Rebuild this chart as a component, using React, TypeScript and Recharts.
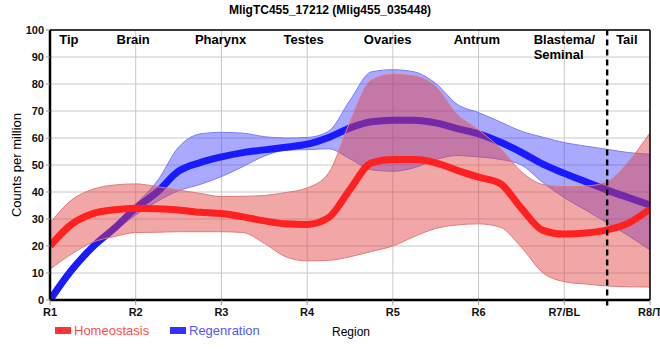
import React from 'react';
import { ComposedChart, Area, Line, XAxis, YAxis, CartesianGrid, ReferenceLine } from 'recharts';

// sample positions along the body axis (0 = R1 ... 7 = R8/T)
const xs = [0, 0.25, 0.5, 0.75, 1, 1.25, 1.5, 1.75, 2, 2.25, 2.5, 2.75, 3, 3.25, 3.5, 3.75, 4, 4.25, 4.5, 4.75, 5, 5.25, 5.5, 5.75, 6, 6.25, 6.5, 6.75, 7];

const homeoMean = [20, 28, 32, 33.4, 34, 33.8, 33.3, 32.5, 32, 30.8, 29.3, 28.2, 28, 30.5, 41, 50.8, 52, 52, 50.8, 48, 45.5, 43.2, 33.9, 25.8, 24.4, 24.8, 26, 28.5, 33.7];
const homeoHigh = [28.5, 37, 41, 42.6, 43, 42, 40.7, 39.5, 38.3, 38.4, 38.7, 39.8, 41.5, 47, 66, 81.5, 83.6, 83, 79, 68.7, 63, 56.3, 47.5, 42.8, 42, 42.2, 43.8, 51.2, 62];
const homeoLow = [11.4, 17, 21.4, 23.5, 25, 25.1, 25.3, 25.3, 25.3, 25, 21, 16, 14.5, 14.7, 16, 18, 20, 23.5, 26.5, 27.8, 28.2, 27, 19.5, 10.1, 6.8, 5.9, 5.2, 4.9, 4.8];

const regenMean = [0, 11, 19.7, 26.5, 34, 40, 47.7, 50.9, 53, 54.6, 55.6, 56.6, 57.7, 60.2, 63.7, 66, 66.6, 66.6, 65.6, 63.5, 61.5, 58.5, 54.7, 50.3, 46.9, 43.8, 40.7, 37.9, 35.2];
const regenHigh = [1, 12, 20.7, 27.5, 35.5, 44, 56.6, 61.5, 62.1, 61.8, 60.5, 60, 60.2, 62.5, 74, 84.5, 85.3, 84.5, 80.2, 72.5, 69.4, 66, 62.5, 60.3, 58.3, 57, 55.8, 54.6, 54];
const regenLow = [0, 10, 18.7, 25.5, 31.5, 36.5, 40.5, 42.8, 45.7, 49.4, 53.3, 55.5, 55.7, 56, 52.3, 48.2, 47.7, 49, 52, 53.5, 53, 52.1, 50, 43.5, 37.9, 33.3, 28.6, 23.8, 18.5];

const xTickPos = [0, 1, 2, 3, 4, 5, 6, 7];
const xTickLabels = ['R1', 'R2', 'R3', 'R4', 'R5', 'R6', 'R7/BL', 'R8/T'];
const yTicks = [0, 10, 20, 30, 40, 50, 60, 70, 80, 90, 100];

const regionPos = [0.22, 0.97, 1.99, 2.96, 3.94, 4.98, 6.01, 6.73];
const regionNames = [['Tip'], ['Brain'], ['Pharynx'], ['Testes'], ['Ovaries'], ['Antrum'], ['Blastema/', 'Seminal'], ['Tail']];

const tailBoundary = 6.5;

const rows = xs.map((x, i) => ({
  x,
  hMean: homeoMean[i],
  hBand: [homeoLow[i], homeoHigh[i]],
  rMean: regenMean[i],
  rBand: [regenLow[i], regenHigh[i]],
}));

const FONT = '"Liberation Sans", Arial, sans-serif';

const regionLabel = (lines: string[]) => (props: any) => {
  const vb = props.viewBox || {};
  const x = vb.x ?? 0;
  const multi = lines.length > 1;
  return (
    <text
      x={multi ? x - 31.5 : x}
      y={44}
      textAnchor={multi ? 'start' : 'middle'}
      fontFamily={FONT}
      fontSize={13}
      fontWeight="bold"
      fill="#000"
    >
      {lines.map((l, k) => (
        <tspan key={k} x={multi ? x - 31.5 : x} dy={k === 0 ? 0 : 15}>
          {l}
        </tspan>
      ))}
    </text>
  );
};

export default function App() {
  return (
    <div style={{ position: 'absolute', left: 0, top: 0, width: 660, height: 360, background: '#fff' }}>
      <ComposedChart width={660} height={360} data={rows} margin={{ top: 30, right: 10, bottom: 40, left: 0 }}>
        <CartesianGrid stroke="#c8c8c8" strokeWidth={1} />
        <XAxis
          type="number"
          dataKey="x"
          domain={[0, 7]}
          ticks={xTickPos}
          interval={0}
          tickFormatter={(v: number) => xTickLabels[v]}
          height={20}
          axisLine={{ stroke: '#000', strokeWidth: 2.5 }}
          tickLine={{ stroke: '#999' }}
          tickSize={5}
          tickMargin={3}
          tick={{ fontSize: 11, fontWeight: 'bold', fill: '#111', fontFamily: FONT }}
          allowDataOverflow
        />
        <YAxis
          type="number"
          domain={[0, 100]}
          ticks={yTicks}
          interval={0}
          width={50}
          axisLine={{ stroke: '#000', strokeWidth: 2.5 }}
          tickLine={{ stroke: '#999' }}
          tickSize={4}
          tickMargin={2}
          tick={{ fontSize: 11, fontWeight: 'bold', fill: '#111', fontFamily: FONT }}
          allowDataOverflow
        />
        <Area
          type="monotone"
          dataKey="rBand"
          stroke="#7c7cf5"
          strokeWidth={1}
          fill="#3333ff"
          fillOpacity={0.42}
          isAnimationActive={false}
          activeDot={false}
        />
        <Area
          type="monotone"
          dataKey="rMean"
          stroke="#1a1aff"
          strokeWidth={7}
          fill="none"
          fillOpacity={0}
          isAnimationActive={false}
          activeDot={false}
        />
        <Area
          type="monotone"
          dataKey="hBand"
          stroke="#e07a7a"
          strokeWidth={1}
          fill="#e23c3c"
          fillOpacity={0.45}
          isAnimationActive={false}
          activeDot={false}
        />
        <Line
          type="monotone"
          dataKey="hMean"
          stroke="#ff2020"
          strokeWidth={7}
          dot={false}
          isAnimationActive={false}
        />
        <ReferenceLine y={100} stroke="#000" strokeWidth={1.5} />
        <ReferenceLine x={7} stroke="#000" strokeWidth={1.5} />
        <ReferenceLine
          segment={[{ x: tailBoundary, y: -2 }, { x: tailBoundary, y: 100 }]}
          stroke="#000"
          strokeWidth={2.4}
          strokeDasharray="6 4"
          ifOverflow="visible"
        />
        {regionPos.map((p, i) => (
          <ReferenceLine key={i} x={p} stroke="none" label={regionLabel(regionNames[i])} />
        ))}
      </ComposedChart>
      <svg
        width={660}
        height={360}
        style={{ position: 'absolute', left: 0, top: 0, pointerEvents: 'none' }}
        fontFamily={FONT}
      >
        <text x={330} y={14} textAnchor="middle" fontSize={12} fontWeight="bold" fill="#000">
          MligTC455_17212 (Mlig455_035448)
        </text>
        <text
          x={21}
          y={165}
          textAnchor="middle"
          fontSize={13}
          fill="#000"
          transform="rotate(-90 21 165)"
        >
          Counts per million
        </text>
        <text x={332} y={336} fontSize={12} fill="#000">
          Region
        </text>
        <rect x={55} y={327} width={16} height={7} fill="#ff3333" />
        <text x={74} y={335} fontSize={13} fill="#ff4d4d">
          Homeostasis
        </text>
        <rect x={170} y={327} width={16} height={7} fill="#3333ff" />
        <text x={189} y={335} fontSize={13} fill="#5555ff">
          Regenration
        </text>
      </svg>
    </div>
  );
}
